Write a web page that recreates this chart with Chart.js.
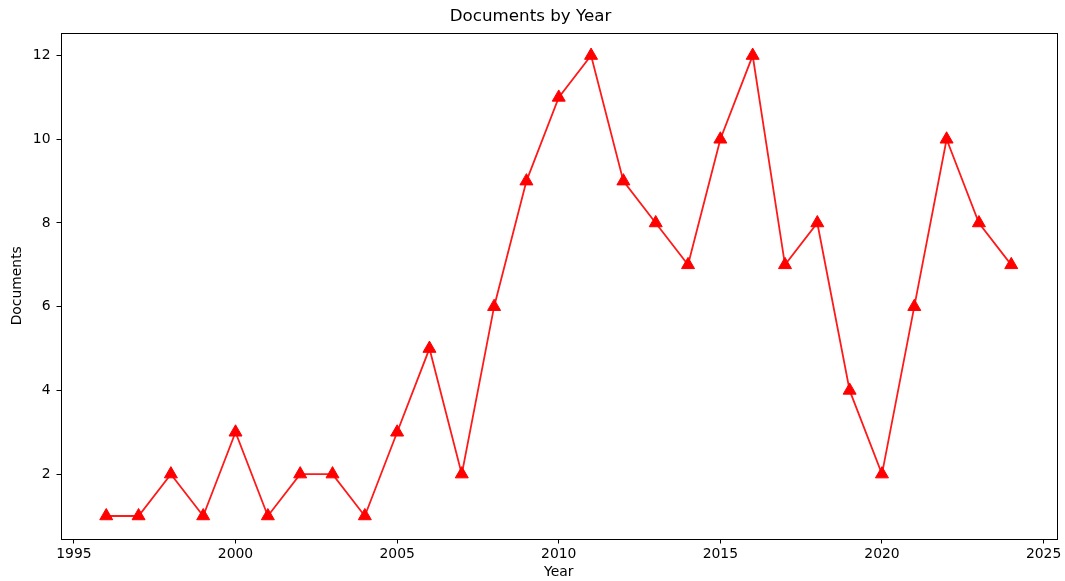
<!DOCTYPE html>
<html>
<head>
<meta charset="utf-8">
<script src="https://cdn.jsdelivr.net/npm/chart.js@4.4.1/dist/chart.umd.min.js"></script>
<style>
  html, body { margin: 0; padding: 0; background: #fff; }
  #wrap { width: 1065px; height: 581px; }
</style>
</head>
<body>
<div id="wrap"><canvas id="chart" width="1065" height="581"></canvas></div>
<script>
// ─── DATA ───────────────────────────────────────────────
const years = [1996,1997,1998,1999,2000,2001,2002,2003,2004,2005,2006,2007,2008,2009,2010,
               2011,2012,2013,2014,2015,2016,2017,2018,2019,2020,2021,2022,2023,2024];
const documents = [1,1,2,1,3,1,2,2,1,3,5,2,6,9,11,12,9,8,7,10,12,7,8,4,2,6,10,8,7];
const xTicks = [1995,2000,2005,2010,2015,2020,2025];
const yTicks = [2,4,6,8,10,12];

const FONT = 'DejaVu Sans';

// box around the plot area (matplotlib spines)
const frame = {
  id: 'frame',
  afterDraw(c) {
    const a = c.chartArea, ctx = c.ctx;
    ctx.save();
    ctx.strokeStyle = '#000'; ctx.lineWidth = 1;
    ctx.strokeRect(Math.round(a.left)+0.5, Math.round(a.top)+0.5,
                   Math.round(a.right-a.left), Math.round(a.bottom-a.top));
    ctx.restore();
  }
};

new Chart(document.getElementById('chart'), {
  type: 'line',
  data: { datasets: [{
    label: 'Documents',
    data: years.map((y,i) => ({x:y, y:documents[i]})),
    borderColor: 'rgba(255,0,0,0.9)', borderWidth: 1.8,
    pointStyle: 'triangle', pointRadius: 7.5, pointHoverRadius: 7.5,
    pointBackgroundColor: '#ff0000', pointBorderColor: '#ff0000', pointBorderWidth: 1,
    tension: 0, fill: false
  }]},
  options: {
    responsive: false, animation: false, devicePixelRatio: 1,
    layout: { padding: { left: 0, right: 4, top: 0, bottom: 0 } },
    plugins: {
      legend: { display: false }, tooltip: { enabled: false },
      title: { display: true, text: 'Documents by Year', color: '#000',
               font: { family: FONT, size: 16.7, weight: 'normal' }, padding: { top: 7, bottom: 5.5 } }
    },
    scales: {
      x: {
        type: 'linear', min: 1994.6, max: 2025.4,
        afterBuildTicks: s => { s.ticks = xTicks.map(v => ({value:v})); },
        afterFit: s => { s.height = 42; },
        grid: { drawOnChartArea: false, drawTicks: true, tickLength: 4.5, color: '#000' },
        border: { display: false },
        ticks: { color: '#000', font: { family: FONT, size: 13.9 }, padding: 3, maxRotation: 0,
                 callback: v => String(v) },
        title: { display: true, text: 'Year', color: '#000', font: { family: FONT, size: 13.9 }, padding: { top: 0, bottom: 0 } }
      },
      y: {
        min: 0.45, max: 12.55,
        afterBuildTicks: s => { s.ticks = yTicks.map(v => ({value:v})); },
        afterFit: s => { s.width = 61; },
        grid: { drawOnChartArea: false, drawTicks: true, tickLength: 4.5, color: '#000' },
        border: { display: false },
        ticks: { color: '#000', font: { family: FONT, size: 13.9 }, padding: 6 },
        title: { display: true, text: 'Documents', color: '#000', font: { family: FONT, size: 13.9 }, padding: { top: 9, bottom: 0 } }
      }
    }
  },
  plugins: [frame]
});
</script>
</body>
</html>
